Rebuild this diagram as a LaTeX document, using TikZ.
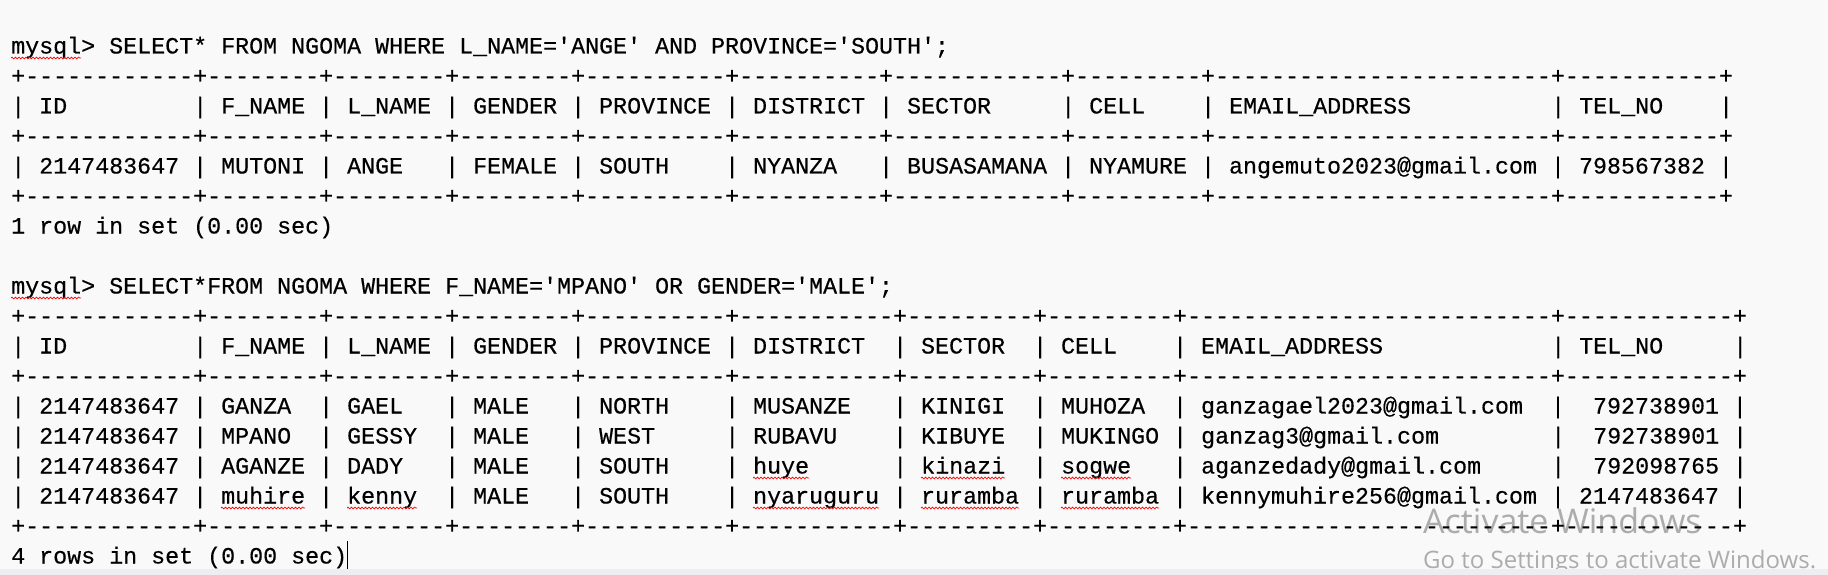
\documentclass[tikz,border=0pt]{standalone}
\usepackage{fontspec}
\setmonofont{Liberation Mono}[FakeBold=0.4]
\newfontfamily\wmfont{Open Sans}
\usetikzlibrary{decorations.pathmorphing}
\definecolor{termbg}{RGB}{249,249,249}
\definecolor{barbg}{RGB}{238,238,242}
\definecolor{wmgray}{RGB}{172,172,172}
\newlength\chw
\setlength\chw{14pt}
\newcommand\sqlrule[1]{+\foreach \cw in {#1}{\foreach \dd in {1,...,\cw}{-}+}}
\newcommand\sqlrow[1]{|\foreach \cw/\ct in {#1}{\makebox[\cw\chw][l]{~\ct}|}}

\begin{document}
\begin{tikzpicture}[x=14pt, y=-30pt,
    sql/.style={font=\ttfamily\frenchspacing\fontsize{23.33pt}{30pt}\selectfont, anchor=base west, inner sep=0pt},
    squig/.style={red, line width=0.7pt, decorate, decoration={snake, amplitude=0.9pt, segment length=3.5pt}},
    wmark/.style={wmgray, anchor=base west, inner sep=0pt}]
    \useasboundingbox (-11pt,53.5pt) rectangle (1817pt,-521.5pt);
    \fill[termbg] (-11pt,53.5pt) rectangle (1817pt,-521.5pt);
    \node[wmark, font=\wmfont\fontsize{34pt}{34pt}\selectfont] (act) at (1412pt,-479.5pt) {Activate Windows};
    \node[wmark, font=\wmfont\fontsize{24pt}{24pt}\selectfont] (goset) at (1412pt,-514.5pt) {Go to Settings to activate Windows.};

    \node[sql] (q1) at (0,0) {mysql> SELECT* FROM NGOMA WHERE L\_NAME='ANGE' AND PROVINCE='SOUTH';};
    \node[sql] (t1top) at (0,1) {\sqlrule{12,8,8,8,10,10,12,9,24,11}};
    \node[sql] (t1head) at (0,2) {\sqlrow{12/ID,8/F\_NAME,8/L\_NAME,8/GENDER,10/PROVINCE,10/DISTRICT,12/SECTOR,9/CELL,24/EMAIL\_ADDRESS,11/TEL\_NO}};
    \node[sql] (t1mid) at (0,3) {\sqlrule{12,8,8,8,10,10,12,9,24,11}};
    \node[sql] (t1r1) at (0,4) {\sqlrow{12/2147483647,8/MUTONI,8/ANGE,8/FEMALE,10/SOUTH,10/NYANZA,12/BUSASAMANA,9/NYAMURE,24/angemuto2023@gmail.com,11/798567382}};
    \node[sql] (t1bot) at (0,5) {\sqlrule{12,8,8,8,10,10,12,9,24,11}};
    \node[sql] (res1) at (0,6) {1 row in set (0.00 sec)};

    \node[sql] (q2) at (0,8) {mysql> SELECT*FROM NGOMA WHERE F\_NAME='MPANO' OR GENDER='MALE';};
    \node[sql] (t2top) at (0,9) {\sqlrule{12,8,8,8,10,11,9,9,26,12}};
    \node[sql] (t2head) at (0,10) {\sqlrow{12/ID,8/F\_NAME,8/L\_NAME,8/GENDER,10/PROVINCE,11/DISTRICT,9/SECTOR,9/CELL,26/EMAIL\_ADDRESS,12/TEL\_NO}};
    \node[sql] (t2mid) at (0,11) {\sqlrule{12,8,8,8,10,11,9,9,26,12}};
    \node[sql] (t2r1) at (0,12) {\sqlrow{12/2147483647,8/GANZA,8/GAEL,8/MALE,10/NORTH,11/MUSANZE,9/KINIGI,9/MUHOZA,26/ganzagael2023@gmail.com,12/\hfill792738901~}};
    \node[sql] (t2r2) at (0,13) {\sqlrow{12/2147483647,8/MPANO,8/GESSY,8/MALE,10/WEST,11/RUBAVU,9/KIBUYE,9/MUKINGO,26/ganzag3@gmail.com,12/\hfill792738901~}};
    \node[sql] (t2r3) at (0,14) {\sqlrow{12/2147483647,8/AGANZE,8/DADY,8/MALE,10/SOUTH,11/huye,9/kinazi,9/sogwe,26/aganzedady@gmail.com,12/\hfill792098765~}};
    \node[sql] (t2r4) at (0,15) {\sqlrow{12/2147483647,8/muhire,8/kenny,8/MALE,10/SOUTH,11/nyaruguru,9/ruramba,9/ruramba,26/kennymuhire256@gmail.com,12/\hfill2147483647~}};
    \node[sql] (t2bot) at (0,16) {\sqlrule{12,8,8,8,10,11,9,9,26,12}};
    \node[sql] (res2) at (0,17) {4 rows in set (0.00 sec)};

    \foreach \rw/\cl/\ln in {q1/0/5,q2/0/5,t2r3/53/4,t2r3/65/6,t2r3/75/5,t2r4/15/6,t2r4/24/5,t2r4/53/9,t2r4/65/7,t2r4/75/7}
        \draw[squig] ([shift={(\cl,0.15)}]\rw.base west) -- ++(\ln,0);
    \draw[line width=1pt] ([shift={(24,0.18)}]res2.base west) -- ++(0,-0.93);
    \fill[barbg] (-11pt,-515.5pt) rectangle (1817pt,-521.5pt);
\end{tikzpicture}
\end{document}
